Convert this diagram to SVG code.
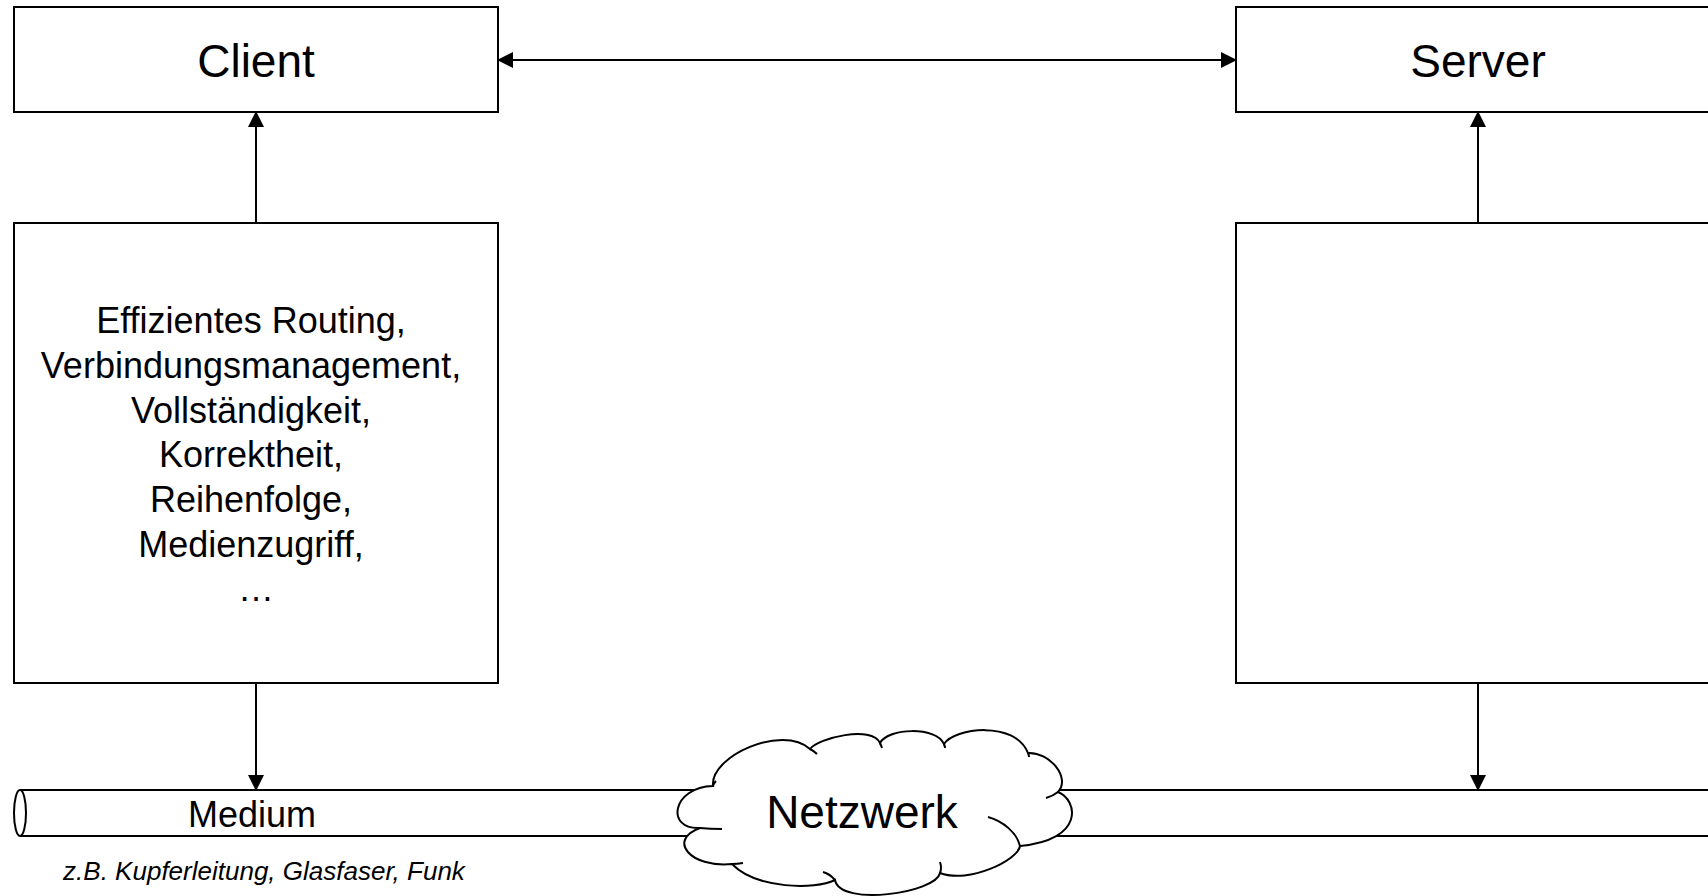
<svg xmlns="http://www.w3.org/2000/svg" width="1708" height="896" viewBox="0 0 1708 896">
  <style>
    .box { fill: #fff; stroke: #000; stroke-width: 2; }
    .wire { fill: none; stroke: #000; stroke-width: 2; }
    .lbl { font-family: "Liberation Sans", Arial, sans-serif; fill: #000; text-anchor: middle; }
    .title { font-size: 46px; }
    .body { font-size: 36px; }
    .note { font-size: 26px; font-style: italic; }
  </style>
  <defs>
    <marker id="arrow" markerWidth="16" markerHeight="16" refX="15" refY="8" orient="auto-start-reverse" markerUnits="userSpaceOnUse">
      <path d="M0,0 L16,8 L0,16 Z" fill="#000"/>
    </marker>
  </defs>
  <rect width="1708" height="896" fill="#fff"/>

  <!-- transmission medium (cable) -->
  <g id="medium">
    <line class="wire" x1="20" y1="790" x2="1708" y2="790"/>
    <line class="wire" x1="20" y1="836" x2="1708" y2="836"/>
    <ellipse class="box" cx="20" cy="813" rx="6" ry="23"/>
    <text class="lbl body" x="252" y="827">Medium</text>
    <text class="lbl note" x="264" y="880">z.B. Kupferleitung, Glasfaser, Funk</text>
  </g>

  <!-- network cloud -->
  <g id="netzwerk">
    <path class="box" d="M713,786
      C710,756 782,724 810,749
      C818,738 872,725 880,743
      C888,728 936,726 944,744
      C954,728 1015,720 1028,753
      C1050,752 1071,778 1058,792
      C1078,800 1085,840 1020,846
      C1018,860 969,884 940,873
      C936,893 840,907 835,880
      C815,890 756,889 732,864
      C690,868 667,840 700,828
      C665,830 672,787 713,786 Z"/>
    <path class="wire" d="M700,828 Q710,829 722,829
      M732,864 Q737,864 743,863
      M835,880 Q830,874 823,872
      M810,749 Q814,751 817,754
      M880,743 Q881,745 882,748
      M944,744 Q945,746 945,748
      M1028,753 Q1029,755 1029,757
      M1058,792 Q1053,796 1046,798
      M988,817 C1003,821 1017,833 1020,846
      M940,873 Q942,868 940,862
      M713,786 Q714,783 716,781"/>
    <text class="lbl title" x="862" y="828">Netzwerk</text>
  </g>

  <!-- client side -->
  <g id="client">
    <rect class="box" x="14" y="7" width="484" height="105"/>
    <text class="lbl title" x="256" y="77">Client</text>
  </g>
  <g id="client-stack">
    <rect class="box" x="14" y="223" width="484" height="460"/>
    <text class="lbl body" x="256">
      <tspan x="256" y="333">Effizientes Routing,</tspan>
      <tspan x="256" y="378">Verbindungsmanagement,</tspan>
      <tspan x="256" y="423">Vollständigkeit,</tspan>
      <tspan x="256" y="467">Korrektheit,</tspan>
      <tspan x="256" y="512">Reihenfolge,</tspan>
      <tspan x="256" y="557">Medienzugriff,</tspan>
      <tspan x="256" y="601">…</tspan>
    </text>
  </g>

  <!-- server side -->
  <g id="server">
    <rect class="box" x="1236" y="7" width="484" height="105"/>
    <text class="lbl title" x="1478" y="77">Server</text>
  </g>
  <g id="server-stack">
    <rect class="box" x="1236" y="223" width="484" height="460"/>
  </g>

  <!-- connectors -->
  <g id="connectors" class="wire">
    <line class="wire" x1="498" y1="60" x2="1236" y2="60" marker-start="url(#arrow)" marker-end="url(#arrow)"/>
    <line class="wire" x1="256" y1="223" x2="256" y2="112" marker-end="url(#arrow)"/>
    <line class="wire" x1="256" y1="683" x2="256" y2="790" marker-end="url(#arrow)"/>
    <line class="wire" x1="1478" y1="223" x2="1478" y2="112" marker-end="url(#arrow)"/>
    <line class="wire" x1="1478" y1="683" x2="1478" y2="790" marker-end="url(#arrow)"/>
  </g>
</svg>
